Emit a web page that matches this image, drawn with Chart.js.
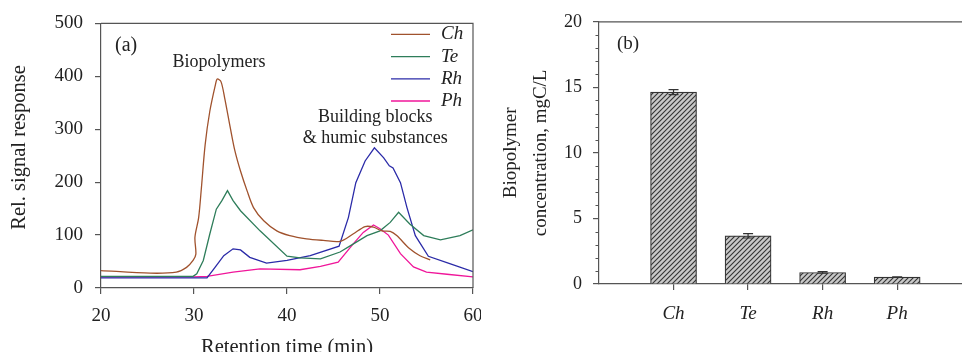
<!DOCTYPE html>
<html>
<head>
<meta charset="utf-8">
<script src="https://cdn.jsdelivr.net/npm/chart.js@4.4.1/dist/chart.umd.min.js"></script>
<style>
    html, body { margin: 0; padding: 0; background: #fff; overflow: hidden; }
    #wrapA { position: absolute; left: 0; top: 0; width: 520px; height: 352px; }
    #wrapB { position: absolute; left: 481px; top: 0; width: 481px; height: 352px; background: #fff; }
</style>
</head>
<body>
<div id="wrapA"><canvas id="chromChart" width="520" height="352"></canvas></div>
<div id="wrapB"><canvas id="bpChart" width="481" height="352"></canvas></div>
<script>
// (a) chromatogrammes LC-OCD + (b) concentration en biopolymères

const SAMPLES = ['Ch', 'Te', 'Rh', 'Ph'];
const COLORS  = ['#a0522d', '#2e7d5a', '#2b2ba8', '#f0169a'];

const CH_TIME   = [20, 25.3, 28.1, 29.2, 29.9, 30.2, 30.1, 30.5, 30.8, 31.2, 31.7, 32.3, 32.5, 32.9, 33.3, 33.9, 34.4, 35.0, 35.7, 36.4, 37.5, 38.9, 40.3, 42.1, 43.9, 45.7, 47.1, 48.4, 49.3, 50.2, 51.1, 51.8, 53.2, 54.3, 55.4];
const CH_SIGNAL = [33, 28, 30, 39, 52, 64, 96, 133, 190, 271, 334, 384, 395, 390, 359, 303, 259, 221, 184, 152, 127, 108, 99, 93, 90, 88, 102, 116, 115, 108, 107, 99, 74, 61, 53];

const TE_TIME   = [20, 29.9, 30.3, 31.0, 31.7, 32.4, 33.0, 33.6, 34.2, 35.0, 37.1, 40.0, 41.4, 43.6, 45.7, 47.1, 48.6, 50.0, 51.1, 52.0, 53.2, 54.7, 56.5, 58.6, 60];
const TE_SIGNAL = [22, 22, 27, 52, 102, 149, 165, 184, 165, 146, 108, 60, 57, 55, 68, 83, 99, 108, 124, 143, 121, 99, 91, 99, 110];

const RH_TIME   = [20, 31.4, 32.3, 33.2, 34.2, 35.0, 36.0, 37.8, 40.0, 42.5, 45.6, 46.6, 47.4, 48.4, 49.4, 50.4, 51.0, 51.4, 52.2, 52.9, 53.8, 55.2, 57.5, 60];
const RH_SIGNAL = [19, 19, 40, 61, 74, 72, 58, 47, 52, 61, 79, 133, 199, 240, 265, 246, 231, 227, 199, 152, 99, 60, 46, 31];

const PH_TIME   = [20, 29.9, 31.4, 34.2, 37.1, 41.4, 43.6, 45.5, 47.1, 48.2, 49.3, 50.0, 50.9, 52.2, 53.6, 55.0, 57.2, 60];
const PH_SIGNAL = [21, 21, 22, 30, 36, 34.5, 41, 49, 83, 105, 119, 112, 100, 65, 40, 30, 26, 21];

const BIOPOLYMER     = [14.64, 3.68, 0.88, 0.53];
const BIOPOLYMER_ERR = [0.19, 0.17, 0.06, 0.02];

const SERIES = [[CH_TIME, CH_SIGNAL], [TE_TIME, TE_SIGNAL], [RH_TIME, RH_SIGNAL], [PH_TIME, PH_SIGNAL]];

// annotations du panneau (a), en coordonnées des données
const NOTES_A = [
    { text: '(a)', x: 22.7, y: 458, size: 20 },
    { text: 'Biopolymers', x: 32.7, y: 426, size: 18 },
    { text: 'Building blocks', x: 49.5, y: 323, size: 18 },
    { text: '& humic substances', x: 49.5, y: 283, size: 18 }
];

const FONT = 'Liberation Serif';
const AXIS = '#555';
const TXT  = '#222';

Chart.defaults.font.family = FONT;
Chart.defaults.color = TXT;

const axisGrid = { drawOnChartArea: false, drawTicks: true, tickLength: 6, color: AXIS, lineWidth: 1.2, offset: false };
const axisBorder = { color: AXIS, width: 1.2 };

const framePlugin = {
    id: 'frame',
    afterDraw(chart, args, opts) {
        const { ctx, chartArea: a } = chart;
        ctx.save();
        ctx.strokeStyle = AXIS; ctx.lineWidth = 1.2;
        ctx.beginPath();
        ctx.moveTo(a.left, a.top); ctx.lineTo(a.right, a.top);
        if (opts.right) ctx.lineTo(a.right, a.bottom);
        ctx.stroke();
        ctx.restore();
    }
};

const notesPlugin = {
    id: 'notes',
    afterDraw(chart) {
        const { ctx, scales: { x, y }, chartArea: a } = chart;
        ctx.save();
        ctx.fillStyle = TXT;
        ctx.textAlign = 'center'; ctx.textBaseline = 'middle';
        NOTES_A.forEach(n => {
            ctx.font = `${n.size}px "${FONT}"`;
            ctx.fillText(n.text, x.getPixelForValue(n.x), y.getPixelForValue(n.y));
        });
        // titre de l'axe Y
        ctx.translate(20, a.top + 124);
        ctx.rotate(-Math.PI / 2);
        ctx.font = `20.5px "${FONT}"`;
        ctx.fillText('Rel. signal response', 0, 0);
        ctx.restore();
        // légende
        ctx.save();
        ctx.textAlign = 'left'; ctx.textBaseline = 'middle';
        ctx.font = `italic 19px "${FONT}"`;
        chart.data.datasets.forEach((ds, i) => {
            const ly = a.top + 11 + i * 22.2;
            ctx.strokeStyle = ds.borderColor; ctx.lineWidth = 1.3;
            ctx.beginPath(); ctx.moveTo(a.right - 82, ly); ctx.lineTo(a.right - 43, ly); ctx.stroke();
            ctx.fillStyle = TXT;
            ctx.fillText(ds.label, a.right - 32, ly);
        });
        ctx.restore();
    }
};

new Chart(document.getElementById('chromChart'), {
    type: 'line',
    data: {
        datasets: SERIES.map(([t, s], i) => ({
            label: SAMPLES[i],
            data: t.map((v, k) => ({ x: v, y: s[k] })),
            borderColor: COLORS[i], borderWidth: 1.3,
            pointRadius: 0, fill: false, tension: i === 0 ? 0.3 : 0
        }))
    },
    options: {
        responsive: false, animation: false,
        layout: { padding: { left: 0, top: 22, right: 47, bottom: 0 } },
        plugins: { legend: { display: false }, tooltip: { enabled: false }, frame: { right: true } },
        scales: {
            x: {
                type: 'linear', min: 20, max: 60,
                ticks: { stepSize: 10, padding: 11, font: { size: 19 }, color: TXT, maxRotation: 0 },
                grid: axisGrid, border: axisBorder,
                title: { display: true, text: 'Retention time (min)', font: { size: 20.5 }, color: TXT, padding: { top: 0, bottom: -8 } },
                afterFit: s => { s.height = 64; }
            },
            y: {
                min: 0, max: 500,
                ticks: { stepSize: 100, padding: 12, font: { size: 19 }, color: TXT },
                grid: axisGrid, border: axisBorder,
                afterFit: s => { s.width = 101; }
            }
        }
    },
    plugins: [framePlugin, notesPlugin]
});

function hatchPattern(ctx) {
    const n = 5;
    const c = document.createElement('canvas');
    c.width = c.height = n;
    const g = c.getContext('2d');
    g.fillStyle = '#c8c8c8'; g.fillRect(0, 0, n, n);
    g.strokeStyle = '#333'; g.lineWidth = 1.1;
    g.beginPath();
    g.moveTo(0, n); g.lineTo(n, 0);
    g.moveTo(-1, 1); g.lineTo(1, -1);
    g.moveTo(n - 1, n + 1); g.lineTo(n + 1, n - 1);
    g.stroke();
    return ctx.createPattern(c, 'repeat');
}

const errorBarPlugin = {
    id: 'errorBars',
    afterDatasetsDraw(chart) {
        const { ctx, scales: { x, y } } = chart;
        ctx.save();
        ctx.strokeStyle = '#333'; ctx.lineWidth = 1.2;
        BIOPOLYMER.forEach((v, i) => {
            const px = x.getPixelForValue(i + 1);
            const top = y.getPixelForValue(v + BIOPOLYMER_ERR[i]);
            const bot = y.getPixelForValue(v - BIOPOLYMER_ERR[i]);
            ctx.beginPath();
            ctx.moveTo(px, top); ctx.lineTo(px, bot);
            ctx.moveTo(px - 5, top); ctx.lineTo(px + 5, top);
            ctx.moveTo(px - 5, bot); ctx.lineTo(px + 5, bot);
            ctx.stroke();
        });
        ctx.restore();
    }
};

// petites graduations (1 mgC/L) + étiquette (b)
const minorBPlugin = {
    id: 'minorB',
    afterDraw(chart) {
        const { ctx, scales: { x, y }, chartArea: a } = chart;
        ctx.save();
        ctx.strokeStyle = AXIS; ctx.lineWidth = 1.1;
        ctx.beginPath();
        for (let v = y.min; v <= y.max; v++) {
            if (v % 5 === 0) continue;
            const py = Math.round(y.getPixelForValue(v)) + 0.5;
            ctx.moveTo(a.left - 3.5, py); ctx.lineTo(a.left, py);
        }
        ctx.stroke();
        ctx.fillStyle = TXT; ctx.font = `19px "${FONT}"`;
        ctx.textAlign = 'center'; ctx.textBaseline = 'middle';
        ctx.fillText('(b)', x.getPixelForValue(0.39), y.getPixelForValue(18.3));
        ctx.restore();
    }
};

const bpCanvas = document.getElementById('bpChart');
new Chart(bpCanvas, {
    type: 'bar',
    data: {
        datasets: [{
            data: BIOPOLYMER.map((v, i) => ({ x: i + 1, y: v })),
            backgroundColor: hatchPattern(bpCanvas.getContext('2d')),
            borderColor: '#333', borderWidth: 1.2, barThickness: 46
        }]
    },
    options: {
        responsive: false, animation: false,
        layout: { padding: { left: 0, top: 18, right: 0, bottom: 0 } },
        plugins: { legend: { display: false }, tooltip: { enabled: false }, frame: { right: false } },
        scales: {
            x: {
                type: 'linear', min: 0, max: 4.87, offset: false,
                afterBuildTicks: s => { s.ticks = SAMPLES.map((_, i) => ({ value: i + 1 })); },
                ticks: { callback: v => SAMPLES[v - 1], padding: 13, font: { size: 19, style: 'italic' }, color: TXT, maxRotation: 0 },
                grid: axisGrid, border: axisBorder,
                afterFit: s => { s.height = 68; }
            },
            y: {
                min: 0, max: 20,
                ticks: { stepSize: 5, padding: 11, font: { size: 18 }, color: TXT },
                grid: axisGrid, border: axisBorder,
                title: { display: true, text: ['Biopolymer', 'concentration, mgC/L'], color: TXT,
                         font: { size: 19, lineHeight: 1.58 }, padding: { top: 15, bottom: 0 } },
                afterFit: s => { s.width = 118; }
            }
        }
    },
    plugins: [framePlugin, errorBarPlugin, minorBPlugin]
});
</script>
</body>
</html>
